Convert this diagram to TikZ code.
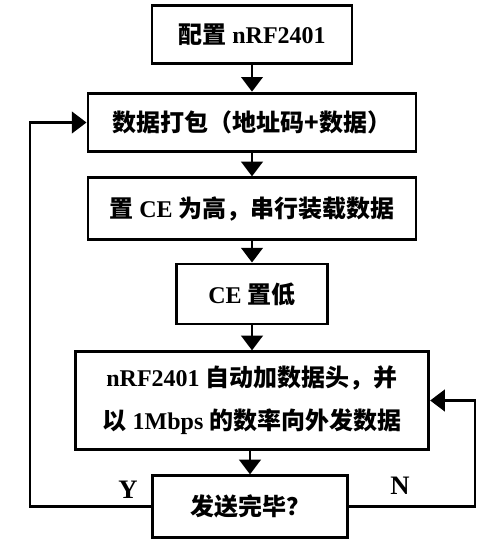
\documentclass[tikz,border=0pt]{standalone}
\usepackage{fontspec}
\setmainfont{Liberation Serif}
\newfontfamily\cjk{Noto Sans CJK SC}
\usetikzlibrary{arrows.meta}

\begin{document}
\begin{tikzpicture}[x=0.75pt, y=-0.75pt,
        box/.style={draw, line width=2.2pt, inner sep=0pt, align=center,
            font=\fontsize{18}{32}\selectfont\bfseries},
        arr/.style={line width=2.2pt, -{Triangle[length=11pt,width=16pt]}},
        yn/.style={font=\fontsize{20}{24}\selectfont\bfseries}]
        \useasboundingbox (0,0) rectangle (501,542);

        \node[box, minimum width=150pt, minimum height=44pt] (cfg) at (252,34.5) {{\cjk 配置} nRF2401};
        \node[box, minimum width=246pt, minimum height=44pt] (pack) at (252,122.5) {\cjk 数据打包（地址码+数据）};
        \node[box, minimum width=246pt, minimum height=46pt] (cehi) at (252,208.5) {{\cjk 置} CE {\cjk 为高，串行装载数据}};
        \node[box, minimum width=113pt, minimum height=45pt] (celo) at (252,294) {CE {\cjk 置低}};
        \node[box, minimum width=265pt, minimum height=73pt] (send) at (252,400.5)
            {nRF2401 {\cjk 自动加数据头，并}\\{\cjk 以} 1Mbps {\cjk 的数率向外发数据}};
        \node[box, minimum width=146pt, minimum height=46pt] (done) at (250,506.5) {\cjk 发送完毕？};

        \coordinate (lft) at (30,506.5);
        \coordinate (rgt) at (475,506.5);

        \draw[arr] (cfg) -- (pack);
        \draw[arr] (pack) -- (cehi);
        \draw[arr] (cehi) -- (celo);
        \draw[arr] (celo) -- (send);
        \draw[arr] (send.south -| done) -- (done);
        \draw[arr] (done.west) -- (lft) |- (pack.west);
        \draw[arr] (done.east) -- (rgt) |- (send.east);

        \node[yn] (yes) at (128,490) {Y};
        \node[yn] (no) at (400,486) {N};
\end{tikzpicture}
\end{document}
